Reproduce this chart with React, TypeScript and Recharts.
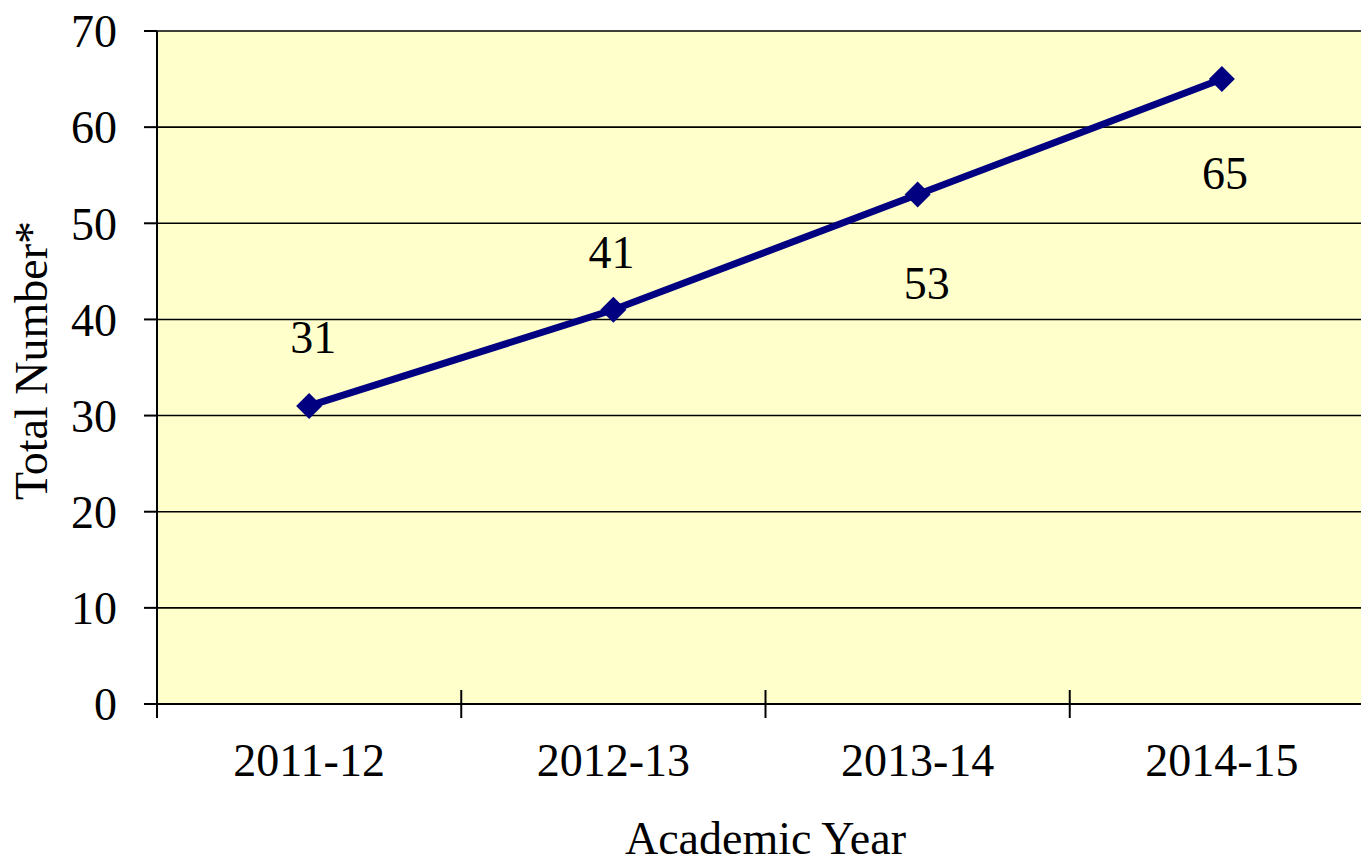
import { LineChart, Line, XAxis, YAxis, CartesianGrid, LabelList } from "recharts"

const years = ["2011-12", "2012-13", "2013-14", "2014-15"]
const totals = [31, 41, 53, 65]
const yTicks = [0, 10, 20, 30, 40, 50, 60, 70]

// where Excel put each value label, relative to its point
const labelSide = ["above", "above", "below", "below"]
const labelDy = [-53, -42, 105, 110]
const labelDx = [4, -2, 9, 3]

const data = years.map((year, i) => ({ year, total: totals[i] }))

const FONT = '"Liberation Serif", "Times New Roman", serif'
const NAVY = "#000080"

const Diamond = (props: any) => {
  const { cx, cy, index } = props
  const r = 13
  return (
    <polygon
      key={`dot-${index}`}
      points={`${cx},${cy - r} ${cx + r},${cy} ${cx},${cy + r} ${cx - r},${cy}`}
      fill={NAVY}
    />
  )
}

const XTick = (props: any) => {
  const { x, y, payload } = props
  const off = payload.offset ?? 0
  return (
    <g>
      <line x1={x - off} x2={x - off} y1={y - 28} y2={y} stroke="#000" strokeWidth={2} />
      <text x={x} y={y + 58} textAnchor="middle" fontSize={46} fontFamily={FONT} fill="#000">
        {payload.value}
      </text>
    </g>
  )
}

const ValueLabel = (props: any) => {
  const { x, y, value, index } = props
  return (
    <text
      x={x + labelDx[index]}
      y={y + labelDy[index]}
      textAnchor="middle"
      fontSize={46}
      fontFamily={FONT}
      fill="#000"
      data-side={labelSide[index]}
    >
      {value}
    </text>
  )
}

export default function App() {
  return (
    <div style={{ position: "absolute", left: 0, top: 0, width: 1361, height: 864, overflow: "hidden", background: "#fff" }}>
      <LineChart width={1400} height={864} data={data} margin={{ top: 31, right: 26, bottom: 0, left: 0 }}>
        <CartesianGrid vertical={false} stroke="#000" strokeWidth={1.6} fill="#FFFFCC" fillOpacity={1} />
        <XAxis
          dataKey="year"
          scale="band"
          height={160}
          tickLine={false}
          tickSize={14}
          tickMargin={0}
          axisLine={{ stroke: "#000", strokeWidth: 2 }}
          tick={<XTick />}
          interval={0}
          label={{
            content: (p: any) => {
              const vb = p.viewBox
              return (
                <text x={vb.x + vb.width / 2} y={vb.y + 150} textAnchor="middle" fontSize={46} fontFamily={FONT} fill="#000">
                  Academic Year
                </text>
              )
            },
          }}
        />
        <YAxis
          width={157}
          domain={[0, 70]}
          ticks={yTicks}
          interval={0}
          tickSize={13}
          tickMargin={27}
          tickLine={{ stroke: "#000", strokeWidth: 2 }}
          axisLine={{ stroke: "#000", strokeWidth: 2 }}
          tick={{ fill: "#000", fontSize: 46, fontFamily: FONT }}
          label={{
            content: (p: any) => {
              const vb = p.viewBox
              const cy = vb.y + vb.height / 2 - 7
              return (
                <text x={47} y={cy} transform={`rotate(-90, 47, ${cy})`} textAnchor="middle" fontSize={46} fontFamily={FONT} fill="#000">
                  Total Number*
                </text>
              )
            },
          }}
        />
        <Line
          dataKey="total"
          stroke={NAVY}
          strokeWidth={7}
          dot={<Diamond />}
          activeDot={false}
          isAnimationActive={false}
        >
          <LabelList dataKey="total" content={<ValueLabel />} />
        </Line>
      </LineChart>
    </div>
  )
}
